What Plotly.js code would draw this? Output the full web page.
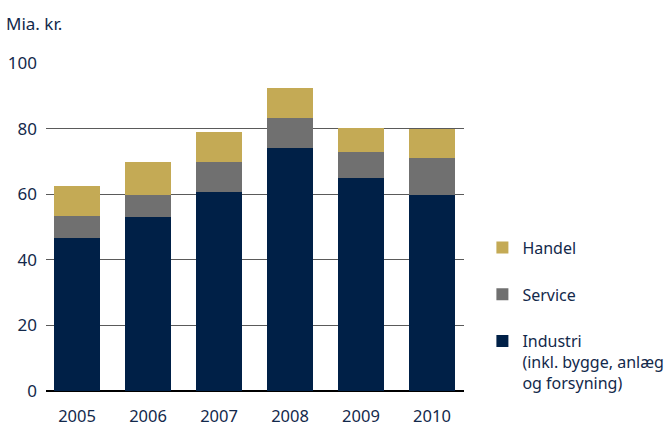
<!DOCTYPE html>
<html>
<head>
<meta charset="utf-8">
<script src="https://cdn.plot.ly/plotly-3.0.1.min.js"></script>
<style>html,body{margin:0;padding:0;background:#fff;}#chart{width:670px;height:427px;}</style>
</head>
<body>
<div id="chart"></div>
<script>
const years = ['2005','2006','2007','2008','2009','2010'];
const industri = [46.6, 53.0, 60.6, 74.0, 64.9, 59.7];
const service = [6.7, 6.7, 9.2, 9.2, 7.9, 11.3];
const handel = [9.1, 10.1, 9.1, 9.1, 7.3, 9.0];
const yTicks = [0, 20, 40, 60, 80, 100];

const textColor = '#13294b';
const fontFam = '"Noto Sans", "Open Sans", sans-serif';

const traces = [
  {name: 'Industri<br>(inkl. bygge, anlæg<br>og forsyning)', x: years, y: industri, type: 'bar', marker: {color: '#002047'}, legendgroup: 'a', legendrank: 3},
  {name: 'Service', x: years, y: service, type: 'bar', marker: {color: '#707070'}, legendgroup: 'b', legendrank: 2},
  {name: 'Handel', x: years, y: handel, type: 'bar', marker: {color: '#c4aa55'}, legendgroup: 'c', legendrank: 1}
];

const layout = {
  width: 670, height: 427,
  margin: {l: 46, r: 206, t: 63, b: 36},
  barmode: 'stack',
  bargap: 0.352,
  paper_bgcolor: '#fff', plot_bgcolor: '#fff',
  font: {family: fontFam, color: textColor, size: 16},
  xaxis: {
    type: 'category', range: [-0.437, 5.451],
    showgrid: false, zeroline: false, showline: false, ticks: '',
    tickfont: {size: 16.5, color: textColor}, ticklabelstandoff: 13
  },
  yaxis: {
    range: [0, 100], tickvals: yTicks, ticktext: yTicks.map(String),
    showgrid: true, gridcolor: '#5a5a5a', gridwidth: 1,
    zeroline: true, zerolinecolor: '#000', zerolinewidth: 1.2,
    showline: false, ticks: '',
    tickfont: {size: 17, color: textColor}, ticklabelstandoff: 8
  },
  legend: {
    xref: 'container', yref: 'container',
    x: 0.72, y: 0.46, xanchor: 'left', yanchor: 'top',
    traceorder: 'grouped', tracegroupgap: 23, valign: 'top',
    font: {size: 16, color: textColor}, bgcolor: 'rgba(0,0,0,0)'
  },
  annotations: [{
    text: 'Mia. kr.', xref: 'paper', yref: 'paper', x: -0.1, y: 1.12,
    xanchor: 'left', yanchor: 'middle', showarrow: false,
    font: {size: 17, color: textColor}
  }]
};

Plotly.newPlot('chart', traces, layout, {displayModeBar: false, staticPlot: true});
</script>
</body>
</html>
